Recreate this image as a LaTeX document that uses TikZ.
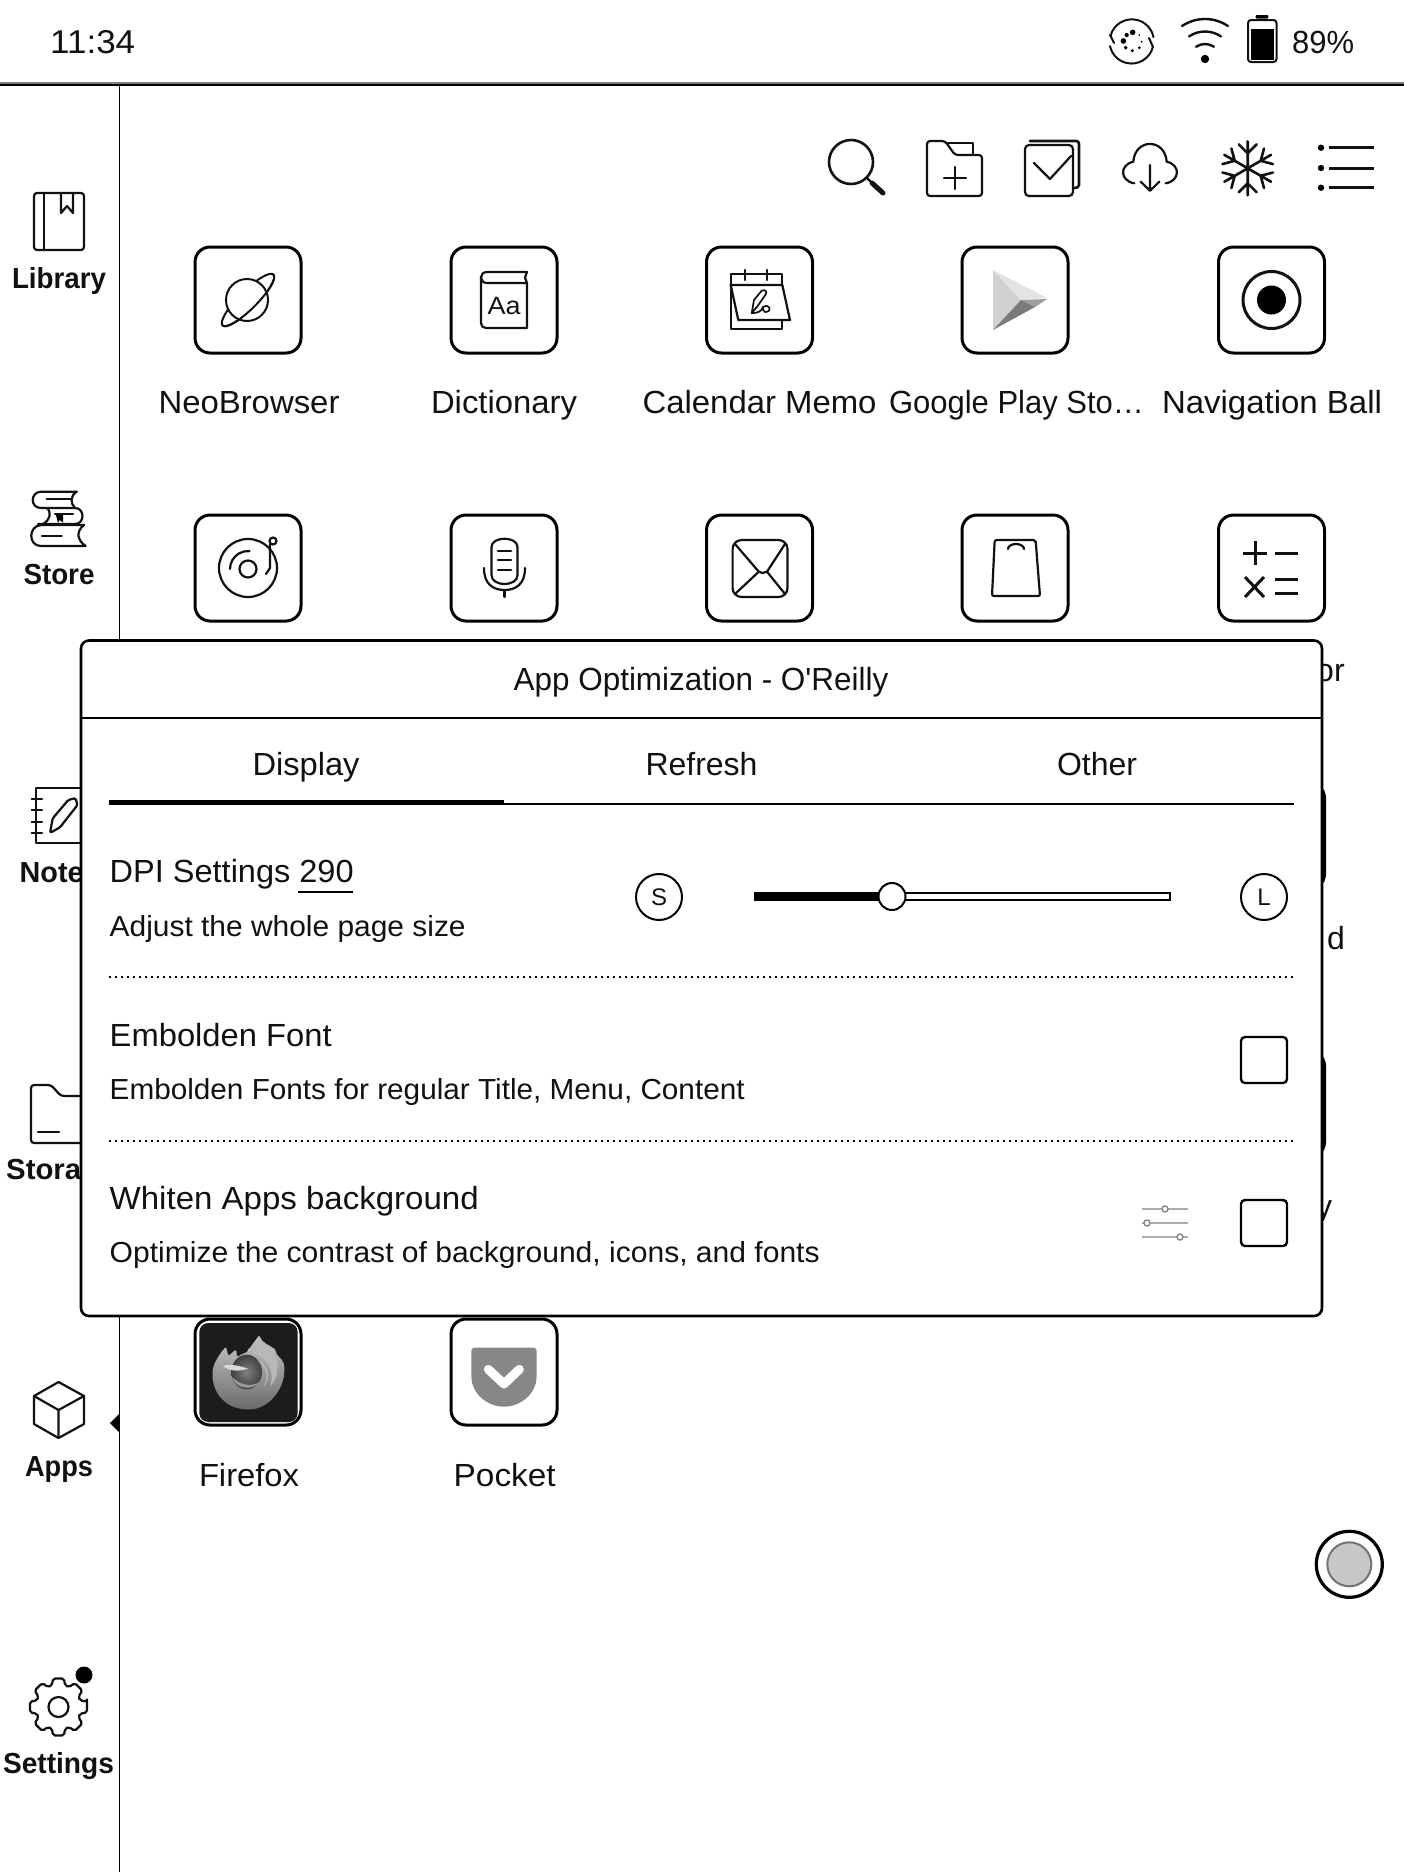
\documentclass[tikz,border=0pt]{standalone}
\usepackage{fontspec}
\usepackage{graphicx}
\setmainfont{Liberation Sans}
\newsavebox\fwbox
\newcommand\fw[2]{\sbox\fwbox{#2}\pgfmathsetmacro\fwr{#1/\the\wd\fwbox}\scalebox{\fwr}[1]{\usebox\fwbox}}
\definecolor{ink}{HTML}{111111}
\tikzset{
  ic/.style={draw=ink,line width=2.2pt,line cap=round,line join=round},
  icb/.style={ic,line width=2.6pt},
  appbox/.style={draw=black,line width=3pt,rounded corners=15pt,minimum size=106pt,inner sep=0pt,fill=white},
  lab/.style={font=\fontsize{32}{36}\selectfont,anchor=base,inner sep=0pt,text=ink},
  side/.style={font=\fontsize{29}{34}\selectfont\bfseries,anchor=base,inner sep=0pt,text=ink},
  head/.style={lab,anchor=base west},
  sub/.style={font=\fontsize{29}{34}\selectfont,anchor=base west,inner sep=0pt,text=ink},
  dots/.style={draw=black,line width=2pt,dash pattern=on 2pt off 4pt},
  sizecirc/.style={circle,draw=black,line width=2pt,minimum size=46pt,inner sep=0pt,font=\fontsize{24}{28}\selectfont,text=ink},
  chk/.style={draw=black,line width=2.4pt,rounded corners=4pt,minimum size=46pt,inner sep=0pt},
  zoomed/.style={shift={(100,1300)},x=0.33333pt,y=-0.33333pt},
}
\begin{document}
\begin{tikzpicture}[x=1pt,y=-1pt]
\useasboundingbox (0,0) rectangle (1404,1872);
\fill[white] (0,0) rectangle (1404,1872);

% status bar
\node[head,font=\fontsize{33}{38}\selectfont] (clock) at (50,53) {\fw{85}{11:34}};
\node[head,font=\fontsize{32}{36}\selectfont] (pct) at (1292,53) {\fw{62}{89\%}};
\draw[ic,line width=2pt] (1110.5,36) arc (194:349:22) ;
\draw[ic,line width=2pt] (1153,46.5) arc (13:168:22);
\draw[ic,line width=2pt] (1110,35) -- (1114,43) (1153,47) -- (1149,38);
\foreach \dx/\dy/\r in {128/97/2.8,110/105/2.1,100/123/2.8,107/143/1.9,127/152/1.7,148/143/1.5,155/125/1.1,148/105/.9}
  \fill[black] ({1090+\dx/3},{\dy/3}) circle (\r);
\foreach \r in {41,28.5,16}
  \draw[ic,line width=2.4pt] ({1205+\r*cos(236)},{60+\r*sin(236)}) arc (236:304:\r);
\fill[black] (1205,59) circle (4.2);
\fill[black,rounded corners=1pt] (1255.7,15) rectangle (1268.3,18.5);
\draw[ink,line width=2pt,rounded corners=3pt] (1248,20) rectangle (1276.5,62);
\fill[black] (1250.5,29) rectangle (1274,59.5);
\draw[black!50,line width=2pt] (0,83) -- (1404,83);
\draw[black,line width=2.4pt] (0,85) -- (1404,85);
\draw[black,line width=1.6pt] (119.5,86) -- (119.5,1872);

% toolbar
\draw[icb] (851,162) circle (22);
\draw[ic] (867,178) -- (872,183);
\draw[ic,line width=5pt] (872,183) -- (883,193);
\draw[ic,rounded corners=3pt] (927,141) -- (945,141) -- (955,155) -- (982,155) -- (982,196) -- (927,196) -- cycle;
\draw[ic] (946,143) -- (973,143) -- (973,155);
\draw[ic] (955,167) -- (955,189) (944,178) -- (966,178);
\draw[ic,rounded corners=4pt] (1025,145) rectangle (1073,196);
\draw[ic,line width=2.6pt] (1030,141) -- (1076,141) .. controls (1078,141) and (1079,142) .. (1079,144) -- (1079,185) .. controls (1079,187) and (1077,188) .. (1073,188);
\draw[ic] (1034,163) -- (1050,179) -- (1071,156);
\draw[ic] (1134.3,183.3) .. controls (1120,181) and (1119,165) .. (1133.3,161.7)
  .. controls (1135,138) and (1165,138) .. (1166.7,161.7)
  .. controls (1181,165) and (1180,181) .. (1165.7,183.3);
\draw[ic] (1150,165) -- (1150,190.7) (1140.7,181.7) -- (1150,190.7) -- (1159.3,181.7);
\foreach \a in {90,150,210,270,330,30}
  \draw[ic,line width=2.6pt,shift={(1247.7,168.3)},rotate=\a] (0,0) -- (27,0) (15,0) -- (24,9) (15,0) -- (24,-9);
\foreach \y in {147.7,168,187.7}{
  \fill[black] (1321,\y) circle (3.2);
  \draw[ic,line width=3pt,line cap=butt] (1329,\y) -- (1373.5,\y);
}

% sidebar
\draw[ic,rounded corners=3pt] (84,193) rectangle (34,250);
\draw[ic] (44,193) -- (44,250);
\draw[ic] (61,193) -- (61,213) -- (67,206) -- (73,213) -- (73,193);
\node[side] (library) at (59,288) {\fw{94}{Library}};
% store icon
\draw[ic] (76.7,491.7) -- (41,491.7) .. controls (30,492) and (30,508) .. (41,508) -- (75,508) .. controls (85,508) and (85,524) .. (75,524) -- (38,524);
\draw[ic] (76.7,491.7) .. controls (70,496) and (70,503) .. (75,508);
\draw[ic] (46.7,499) -- (72,499);
\draw[ic] (47,508) .. controls (52,513) and (50,520) .. (43,524);
\draw[ic] (55,514) -- (73,514);
\fill[black] (56,515) -- (63,515) -- (63,522.5) -- (59.5,520) -- (58,523) -- cycle;
\draw[ic] (84,525) -- (41,525) .. controls (28,526) and (28,546) .. (41,546) -- (85.7,546) .. controls (78,541) and (75,532) .. (84,525);
\draw[ic] (42,535.7) -- (61.7,535.7);
\node[side] (store) at (59,584) {\fw{71}{Store}};
% note icon
\draw[ic] (90,788) -- (36,788) -- (36,843) -- (90,843);
\foreach \y in {799,810,822,833} \draw[ic] (31.7,\y) -- (42,\y);
\draw[ic,rounded corners=1.5pt] (50,833) -- (52.7,818.3) -- (68.3,800) -- (75.5,798) -- (77.5,805) -- (60,827.3) -- cycle;
\node[side,anchor=base west] (note) at (19.5,882) {\fw{64}{Note}};
% storage icon
\draw[ic,rounded corners=3pt] (90,1096) -- (61,1096) -- (51,1085) -- (31,1085) -- (31,1143) -- (90,1143);
\draw[ic] (38,1132) -- (59,1132);
\node[side,anchor=base west] (storage) at (6,1179) {\fw{75}{Stora}};
% apps icon
\draw[ic] (58.5,1382) -- (84,1396) -- (84,1424) -- (58.5,1438) -- (34,1424) -- (34,1396) -- cycle;
\draw[ic] (34,1396) -- (58.5,1410) -- (84,1396) (58.5,1410) -- (58.5,1438);
\node[side] (apps) at (59,1476) {\fw{68}{Apps}};
\fill[black] (110,1423) -- (119,1414) -- (119,1432) -- cycle;
% settings icon
\draw[ic,shift={(58.5,1707)},rounded corners=2pt] (-11:29) \foreach \a in {0,45,...,315}{ -- ({\a-11}:29) -- ({\a+11}:29) -- ({\a+17}:22.5) -- ({\a+28}:22.5)} -- cycle;
\draw[ic] (58.5,1707) circle (10);
\fill[black] (84,1675) circle (8.5);
\node[side] (settings) at (58.5,1773) {\fw{111}{Settings}};

% app grid
\foreach \n/\x/\y in {a/248/300,b/504/300,c/759.5/300,d/1015/300,e/1271.5/300,f/248/568,g/504/568,h/759.5/568,i/1015/568,j/1271.5/568,k/1271.5/836,l/1271.5/1104,m/504/1372}
  \node[appbox] (box\n) at (\x,\y) {};
\node[appbox] (boxfox) at (248,1372) {};

% planet
\draw[ic,line width=2pt,shift={(248,300)},rotate=45] (0,0) ellipse (36 and 9);
\fill[white,draw=ink,line width=2pt] (247,300) circle (21);
\draw[ic,line width=2pt,shift={(248,300)},rotate=45] (36,0) arc (0:180:36 and 9);
% dictionary
\draw[ic] (527,272) -- (487,272) .. controls (479,272) and (479,283) .. (487,283) -- (527,283);
\draw[ic] (527,272) -- (525,277.5) -- (527,283) -- (527,328) -- (486,328) .. controls (483,328) and (481,326) .. (481,323) -- (481,277);
\node[lab,font=\fontsize{25}{28}\selectfont] (aa) at (504,314) {\fw{33}{Aa}};
% calendar
\draw[ic] (730.7,274) rectangle (782.3,329);
\draw[ic] (730.7,285) -- (782.3,285);
\draw[ic] (745,270) -- (745,280) (767.3,270) -- (767.3,280);
\draw[ic,fill=white] (730.7,285) -- (738.3,320) -- (790,320) -- (782.3,285) -- cycle;
\draw[ic,line width=1.7pt] (751.7,313.3) -- (754,300) -- (761.7,290.7) .. controls (766,289) and (767,292) .. (765.7,294.5) -- (758.3,305) -- cycle;
\draw[ic,line width=1.7pt] (751.7,313.3) .. controls (758,313) and (762,311) .. (763,307) .. controls (770,303) and (773,312) .. (765,312) .. controls (763,312) and (763,309) .. (763,307);
% play
\fill[black!18] (993,270) -- (1021,300) -- (993,330) -- cycle;
\fill[black!11] (993,270) -- (1047,298) -- (1021,300) -- cycle;
\fill[black!38] (1021,300) -- (1047,299) -- (1035,307) -- cycle;
\fill[black!52] (993,330) -- (1021,300) -- (1035,307) -- cycle;
% nav ball
\draw[ic,line width=3pt] (1271.5,300) circle (28.5);
\fill[black] (1271.5,300) circle (14.5);
% vinyl
\draw[ic] (248,568) circle (29);
\draw[ic] (248,569) circle (8.5);
\draw[ic] (230,569) arc (180:275:18);
\draw[ic,fill=white] (273,541) circle (3.5);
\draw[ic] (270,544) -- (270,568) -- (266,574);
% mic
\draw[ic] (491.5,547) .. controls (491.5,536) and (517.5,536) .. (517.5,547) -- (517.5,575) .. controls (517.5,587) and (491.5,587) .. (491.5,575) -- cycle;
\draw[ic,line width=2.6pt] (498,551) -- (511,551) (498,560) -- (511,560) (498,570) -- (511,570);
\draw[ic] (484,568) .. controls (484,584) and (493,590) .. (504.5,590) .. controls (516,590) and (525,584) .. (525,568);
\draw[ic] (504.5,590) -- (504.5,597);
% mail
\draw[ic,rounded corners=9pt] (732.6,540) rectangle (787.5,597);
\draw[ic] (735,544) -- (758.8,571.7) -- (762.5,573) -- (767,571.7) -- (785,544);
\draw[ic] (735,594) -- (758.8,571.7) (767,571.7) -- (785,594);
% bag
\draw[ic,rounded corners=2pt] (994.7,540) -- (1035.6,540) -- (1040,596) -- (992,596) -- cycle;
\draw[ic] (1008,549) arc (180:0:8 and -5);
% calc
\draw[ic,line width=3pt,line cap=butt] (1255,541) -- (1255,565) (1243,553) -- (1267,553);
\draw[ic,line width=3pt,line cap=butt] (1275,553) -- (1298,553);
\draw[ic,line width=3pt,line cap=butt] (1245,577) -- (1264,597) (1264,577) -- (1245,597);
\draw[ic,line width=3pt,line cap=butt] (1275,579) -- (1298,579) (1275,593) -- (1298,593);

% labels
\node[lab] (neo) at (249,413) {\fw{181}{NeoBrowser}};
\node[lab] (dict) at (504,413) {\fw{146}{Dictionary}};
\node[lab] (cal) at (759.6,413) {\fw{234}{Calendar Memo}};
\node[lab] (play) at (1016.5,413) {\fw{255}{Google Play Sto…}};
\node[lab] (navb) at (1272,413) {\fw{220}{Navigation Ball}};
\node[lab,anchor=base west] (orfrag) at (1316,681) {or};
\node[lab,anchor=base west] (dfrag) at (1327,949) {d};
\node[lab,anchor=base west] (yfrag) at (1316,1217) {y};
\node[lab] (fox) at (249,1486) {\fw{100}{Firefox}};
\node[lab] (pocket) at (504.7,1486) {\fw{102}{Pocket}};

% firefox icon
\fill[black!89,rounded corners=9pt] (199.3,1323) rectangle (297.7,1422);
\begin{scope}[zoomed]
  \shade[top color=black!22,bottom color=black!58,rounded corners=1.5pt]
    (445,150) -- (478,105) .. controls (485,130) and (510,135) .. (527,150) .. controls (528,165) and (545,175) .. (552,192)
    .. controls (560,265) and (505,328) .. (445,328) .. controls (380,328) and (335,280) .. (338,215)
    .. controls (340,190) and (360,160) .. (378,140) -- (385,168) -- (408,148) -- (412,172) .. controls (425,160) and (438,160) .. (445,150) -- cycle;
  \fill[black!28] (445,155) -- (478,110) .. controls (485,130) and (510,135) .. (522,155) .. controls (540,190) and (535,240) .. (510,258)
    .. controls (525,220) and (510,170) .. (445,155) -- cycle;
  \shade[inner color=black!50,outer color=black!75] (440,216) circle (46 and 52);
  \fill[black!40] (398,232) .. controls (400,262) and (460,282) .. (490,235) .. controls (470,265) and (420,258) .. (398,232) -- cycle;
  \fill[black!15] (368,198) .. controls (395,190) and (420,198) .. (444,206) .. controls (425,212) and (395,218) .. (368,198) -- cycle;
  \fill[black!28] (470,182) .. controls (505,190) and (515,235) .. (490,262) .. controls (510,225) and (495,195) .. (470,182) -- cycle;
\end{scope}
% pocket icon
\begin{scope}[zoomed]
  \fill[black!47,rounded corners=3pt] (1114,222) -- (1114,143) -- (1310,143) -- (1310,222) arc (0:180:98) -- cycle;
  \draw[white,line width=9pt,line cap=round,line join=round] (1165,208) -- (1212,252) -- (1258,208);
\end{scope}

% floating ball
\draw[black,line width=3.2pt,fill=white] (1349.3,1564.3) circle (33);
\draw[black!55,line width=2pt,fill=black!22] (1349.3,1564.3) circle (22);

% dialog
\draw[black,line width=2.6pt,fill=white,rounded corners=8pt] (81,640.5) rectangle (1322,1316);
\node[lab] (dlgtitle) at (701,690) {\fw{374.6}{App Optimization - O\textquotesingle Reilly}};
\draw[black,line width=2pt] (81,718) -- (1322,718);
\node[lab] (tabdisp) at (306,775) {\fw{107}{Display}};
\node[lab] (tabref) at (701.5,775) {\fw{112}{Refresh}};
\node[lab] (taboth) at (1097,775) {\fw{80}{Other}};
\draw[black,line width=2pt] (109,803.5) -- (1294,803.5);
\draw[black,line width=4.5pt] (109,802) -- (503.6,802);
\node[head] (dpi) at (109.5,882.5) {\fw{244}{DPI Settings 290}};
\draw[black,line width=2.6pt] (298,892) -- (353,892);
\node[sub] (dpisub) at (109.5,936) {\fw{356}{Adjust the whole page size}};
\node[sizecirc] (small) at (659,897) {S};
\node[sizecirc] (large) at (1264,897) {L};
\draw[black,line width=2pt,fill=white] (880,893) rectangle (1169.5,900);
\fill[black] (753.6,892) rectangle (880,901);
\draw[black,line width=2pt,fill=white] (892,896.5) circle (13.5);
\draw[dots] (109,977) -- (1293,977);
\node[head] (emb) at (109.5,1046) {\fw{222}{Embolden Font}};
\node[sub] (embsub) at (109.5,1099) {\fw{635}{Embolden Fonts for regular Title, Menu, Content}};
\node[chk] (chkemb) at (1264,1060) {};
\draw[dots] (109,1141) -- (1293,1141);
\node[head] (whi) at (109.5,1209.5) {\fw{369}{Whiten Apps background}};
\node[sub] (whisub) at (109.5,1262.5) {\fw{710}{Optimize the contrast of background, icons, and fonts}};
\node[chk] (chkwhi) at (1264,1223) {};
\foreach \y/\k in {1209/1165,1223/1147,1237/1180}{
  \draw[black!32,line width=2.4pt] (1142,\y) -- (1188,\y);
  \draw[black!45,line width=1.5pt,fill=white] (\k,\y) circle (3);
}
\end{tikzpicture}
\end{document}
